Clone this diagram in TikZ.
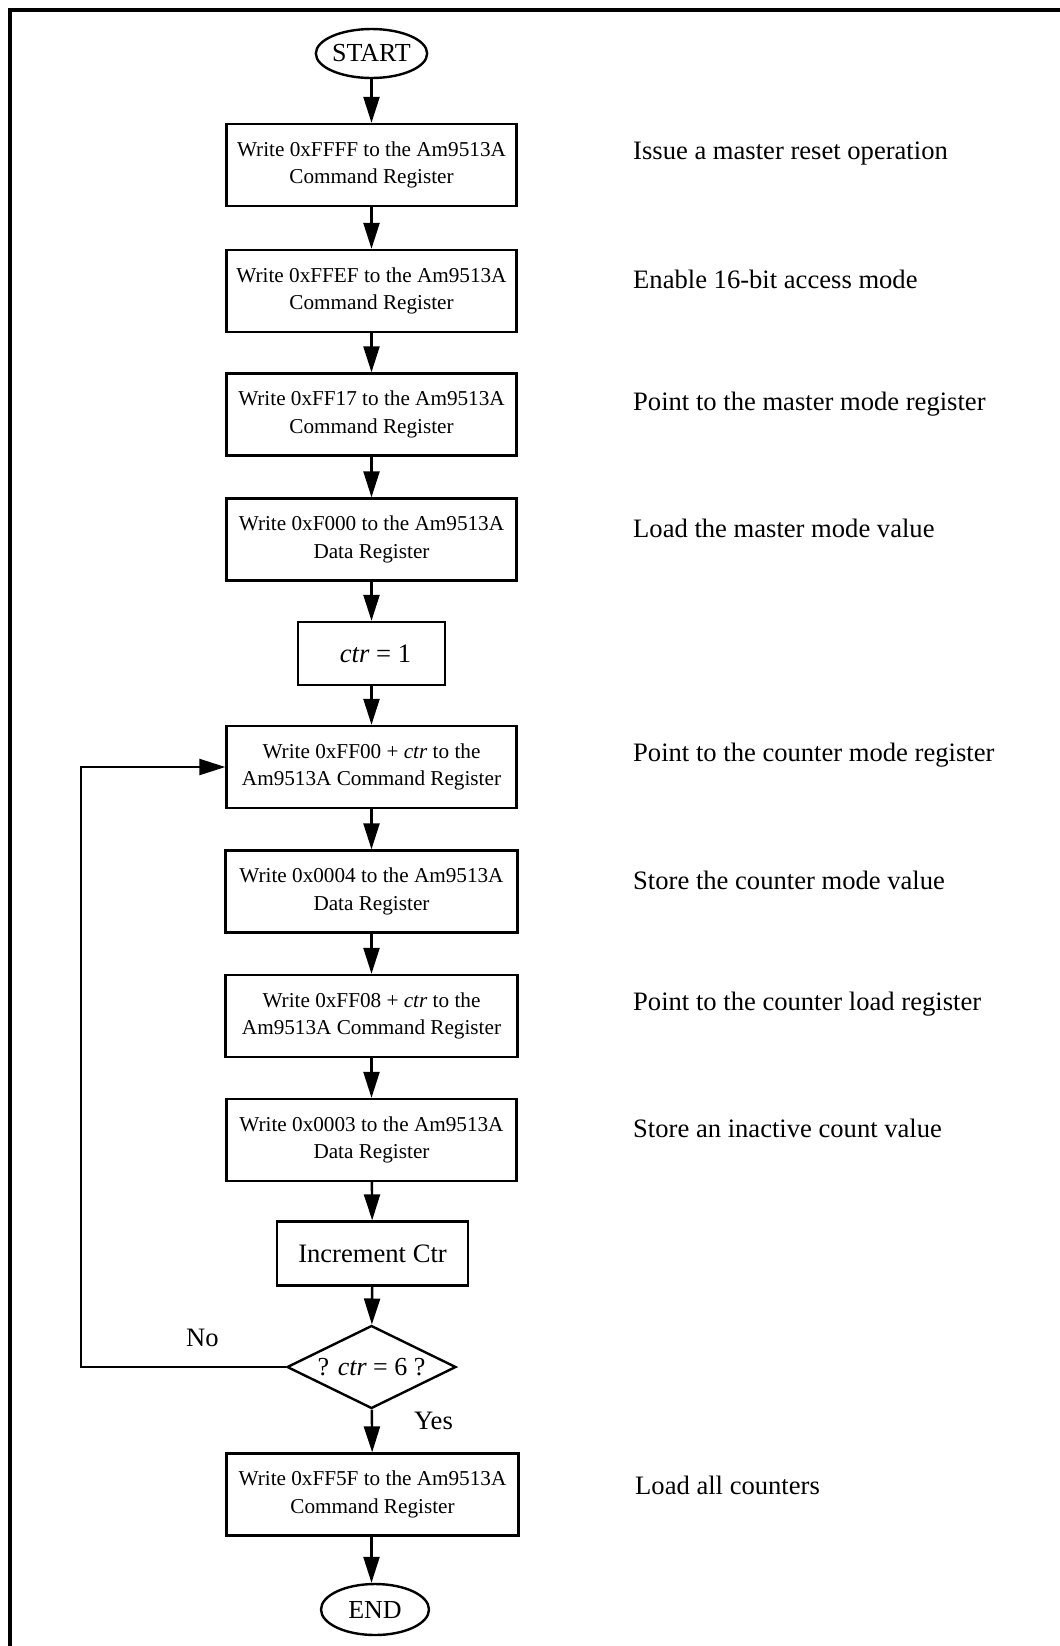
\documentclass[tikz,border=0pt]{standalone}
\usepackage{fontspec}
\setmainfont{Liberation Serif}
\usetikzlibrary{arrows.meta,shapes.geometric,positioning}

\begin{document}
\begin{tikzpicture}[>={Triangle[length=13pt,width=8pt]},x=0.5pt,y=-0.5pt,line width=1.2pt,
  regbox/.style={draw,minimum width=145pt,minimum height=41pt,inner sep=0pt,align=center,font=\fontsize{10.6}{13.6}\selectfont},
  termnode/.style={draw,ellipse,inner sep=0pt,font=\fontsize{13}{15}\selectfont},
  decide/.style={draw,diamond,aspect=2,inner sep=0pt,minimum width=84.5pt,minimum height=41.5pt,font=\fontsize{13}{15}\selectfont},
  bigtxt/.style={font=\fontsize{13.3}{16}\selectfont},
  note/.style={bigtxt,anchor=west,inner sep=0pt}]
  \useasboundingbox (0,0) rectangle (1060,1646);
  \begin{scope}
    \clip (0,0) rectangle (1060,1646);
    \draw[line width=2.2pt] (10,10) rectangle (1100,1700);
  \end{scope}
  % flow
  \node[termnode,minimum width=51.5pt,minimum height=24.5pt] (start) at (371.5,53.5) {START};
  \node[regbox] (b1) at (371.5,165) {Write 0xFFFF to the Am9513A\\Command Register};
  \node[regbox] (b2) at (371.5,291) {Write 0xFFEF to the Am9513A\\Command Register};
  \node[regbox] (b3) at (371.5,414.5) {Write 0xFF17 to the Am9513A\\Command Register};
  \node[regbox] (b4) at (371.5,539.5) {Write 0xF000 to the Am9513A\\Data Register};
  \node[regbox,bigtxt,minimum width=73.5pt,minimum height=31.5pt] (c1) at (371.5,653.5) {\hspace{4pt}\textit{ctr} = 1};
  \node[regbox] (b5) at (371.5,767) {Write 0xFF00 + \textit{ctr} to the\\Am9513A Command Register};
  \node[regbox,minimum width=146pt] (b6) at (371.5,891.5) {Write 0x0004 to the Am9513A\\Data Register};
  \node[regbox,minimum width=146pt] (b7) at (371.5,1016) {Write 0xFF08 + \textit{ctr} to the\\Am9513A Command Register};
  \node[regbox] (b8) at (371.5,1140) {Write 0x0003 to the Am9513A\\Data Register};
  \node[regbox,bigtxt,minimum width=95.5pt,minimum height=32pt] (inc) at (372.5,1253.5) {Increment Ctr};
  \node[decide] (dec) at (371.5,1367) {? \textit{ctr} = 6 ?};
  \node[regbox,minimum width=146pt] (b9) at (372.5,1494.5) {Write 0xFF5F to the Am9513A\\Command Register};
  \node[termnode,minimum width=54pt,minimum height=25.5pt] (end) at (375,1609.5) {END};
  \foreach \a/\b in {start/b1,b1/b2,b2/b3,b3/b4,b4/c1,c1/b5,b5/b6,b6/b7,b7/b8,b8/inc,inc/dec,dec/b9}
    \draw[->] (\a) -- (\b);
  \draw[->] (b9.south -| dec.south) -- (dec.south |- end.north);
  % loop back
  \coordinate (lp) at (81,767);
  \draw[->] (dec.west) -| (lp) -- (b5.west);
  \node[bigtxt] (no) at (202.5,1338) {No};
  \node[bigtxt] (yes) at (433.5,1421) {Yes};
  % comments on the right
  \node[note] (n1) at (632,154) {Issue a master reset operation};
  \node[note] (n2) at (632,279) {Enable 16-bit access mode};
  \node[note] (n3) at (632,404) {Point to the master mode register};
  \node[note] (n4) at (632,528) {Load the master mode value};
  \node[note] (n5) at (632,755.5) {Point to the counter mode register};
  \node[note] (n6) at (632,880.5) {Store the counter mode value};
  \node[note] (n7) at (632,1004) {Point to the counter load register};
  \node[note] (n8) at (632,1128) {Store an inactive count value};
  \node[note] (n9) at (634,1485) {Load all counters};
\end{tikzpicture}
\end{document}
